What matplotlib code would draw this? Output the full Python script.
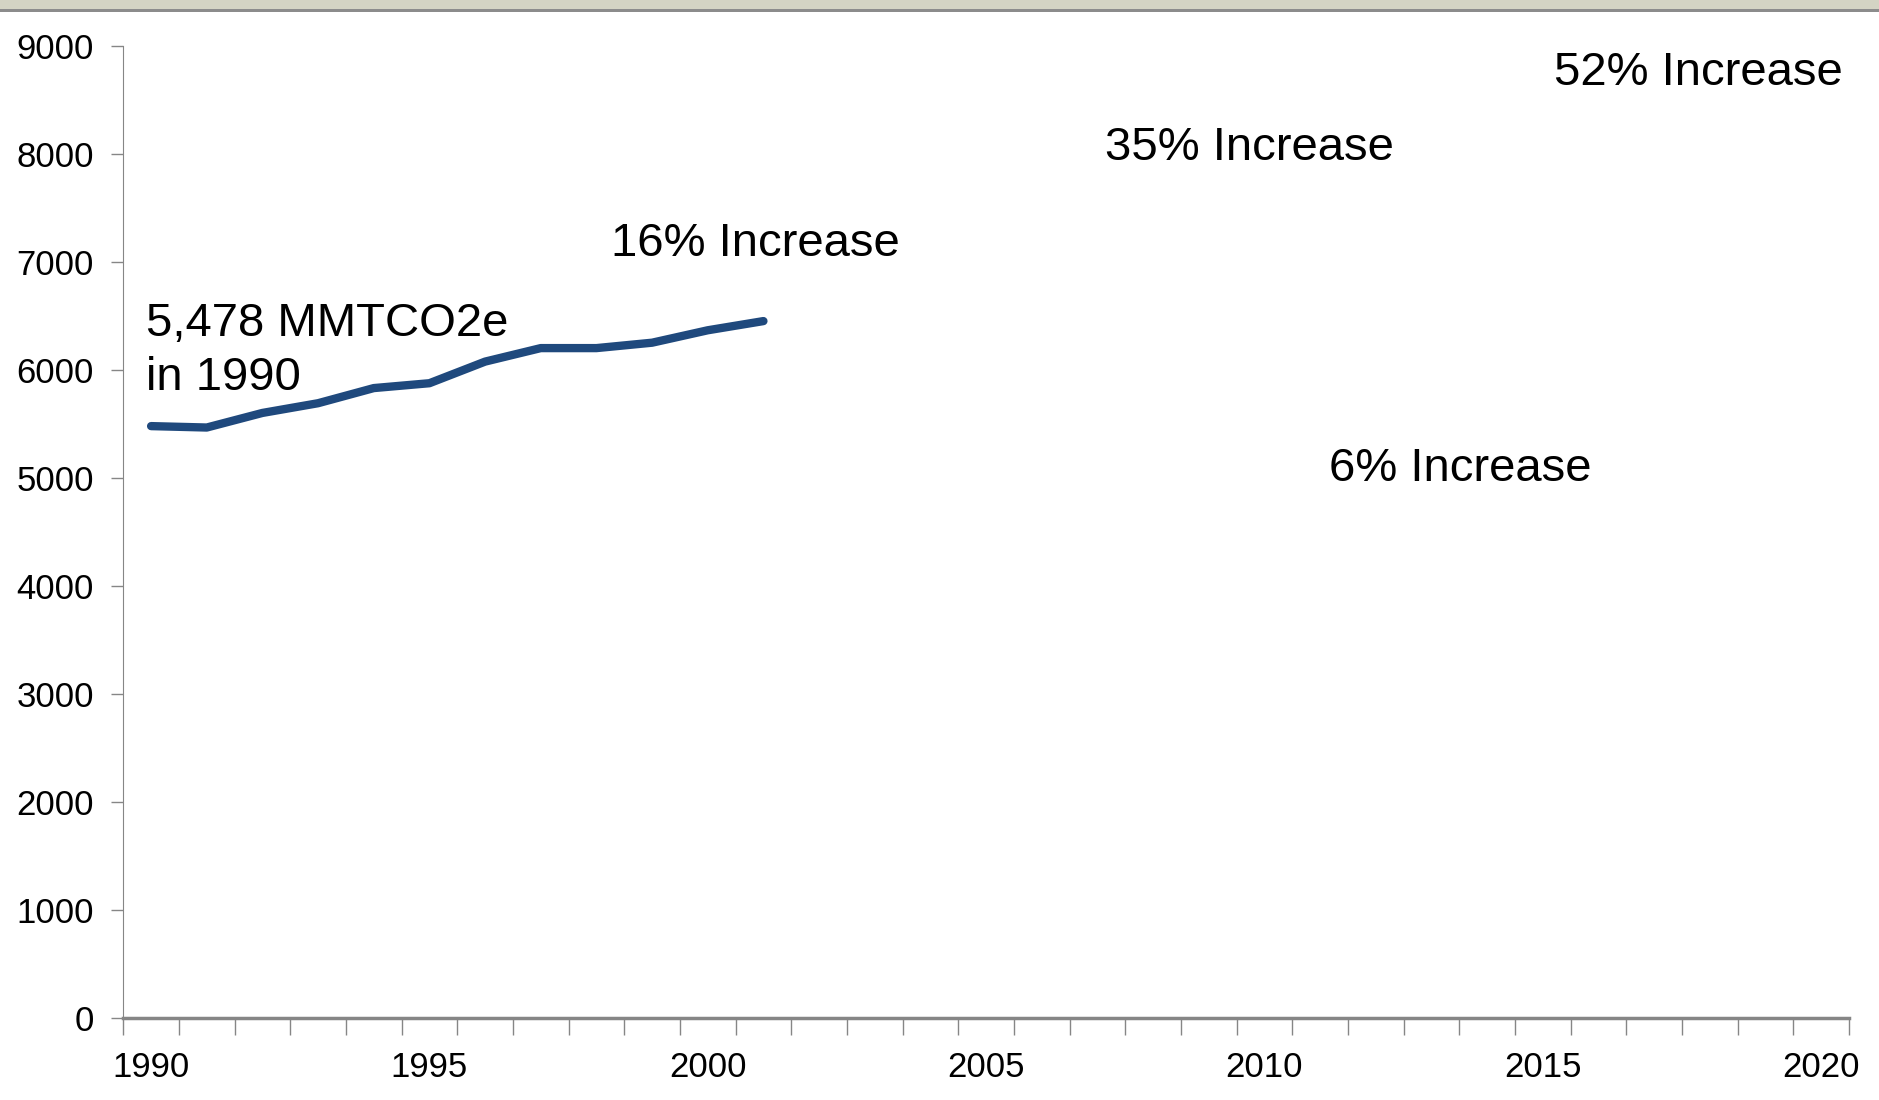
import matplotlib.pyplot as plt
import matplotlib.patches as mpatches
from matplotlib import font_manager
from matplotlib.ticker import FixedLocator

plt.rcParams['font.family'] = ['Liberation Sans', 'DejaVu Sans']

# Emissions series (MMTCO2e)
years = [1990, 1991, 1992, 1993, 1994, 1995, 1996, 1997, 1998, 1999, 2000, 2001]
emissions = [5478, 5465, 5600, 5690, 5830, 5875, 6075, 6200, 6200, 6250, 6365, 6450]

# start of the projection series (only its first bit is visible)
proj_years = [2001]
proj_values = [6450]

label_years = [1990, 1995, 2000, 2005, 2010, 2015, 2020]
y_ticks = [0, 1000, 2000, 3000, 4000, 5000, 6000, 7000, 8000, 9000]

# narrow face for the axis labels, if present
names = {f.name for f in font_manager.fontManager.ttflist}
tick_family = 'Liberation Sans Narrow' if 'Liberation Sans Narrow' in names else 'Liberation Sans'
tick_size = 29 if tick_family == 'Liberation Sans Narrow' else 25

fig = plt.figure(figsize=(18.79, 11), dpi=100)
ax = fig.add_axes([0.0656, 0.0745, 0.9184, 0.8841])

ax.plot(years, emissions, color='#1f497d', linewidth=6, solid_capstyle='round',
        solid_joinstyle='round', zorder=3)
ax.plot(proj_years, proj_values, marker='>', color='#cc0000', markersize=5,
        linestyle='none', zorder=2)

ax.set_xlim(1989.5, 2020.5)
ax.set_ylim(0, 9000)

ax.set_yticks(y_ticks)
ax.set_yticklabels([str(v) for v in y_ticks], fontsize=tick_size, family=tick_family)
ax.tick_params(axis='y', direction='out', length=9, width=1, color='#868686', pad=12)

ax.set_xticks(label_years)
ax.set_xticklabels([str(y) for y in label_years], fontsize=tick_size, family=tick_family)
ax.xaxis.set_minor_locator(FixedLocator([y + 0.5 for y in range(1989, 2021)]))
ax.tick_params(axis='x', which='major', length=0, pad=24)
ax.tick_params(axis='x', which='minor', direction='out', length=12, width=1, color='#868686')

for side in ['top', 'right']:
    ax.spines[side].set_visible(False)
ax.spines['left'].set_color('#868686')
ax.spines['bottom'].set_color('#868686')
ax.spines['bottom'].set_linewidth(2.5)

# Annotations
txt = dict(fontsize=34, color='black', va='center', ha='left')
ax.text(2015.2, 8750, '52% Increase', **txt)
ax.text(2007.14, 8055, '35% Increase', **txt)
ax.text(1998.27, 7165, '16% Increase', **txt)
ax.text(2011.16, 5085, '6% Increase', **txt)
ax.text(1989.9, 6175, '5,478 MMTCO2e\nin 1990', linespacing=1.3, **txt)

# grey band along the top edge
fig.patches.append(mpatches.Rectangle((0, 1 - 9 / 1100), 1, 9 / 1100, transform=fig.transFigure,
                                      facecolor='#d4d4c4', edgecolor='none'))
fig.patches.append(mpatches.Rectangle((0, 1 - 12 / 1100), 1, 3 / 1100, transform=fig.transFigure,
                                      facecolor='#8c8c8c', edgecolor='none'))

fig.savefig('out.png', dpi=100)
